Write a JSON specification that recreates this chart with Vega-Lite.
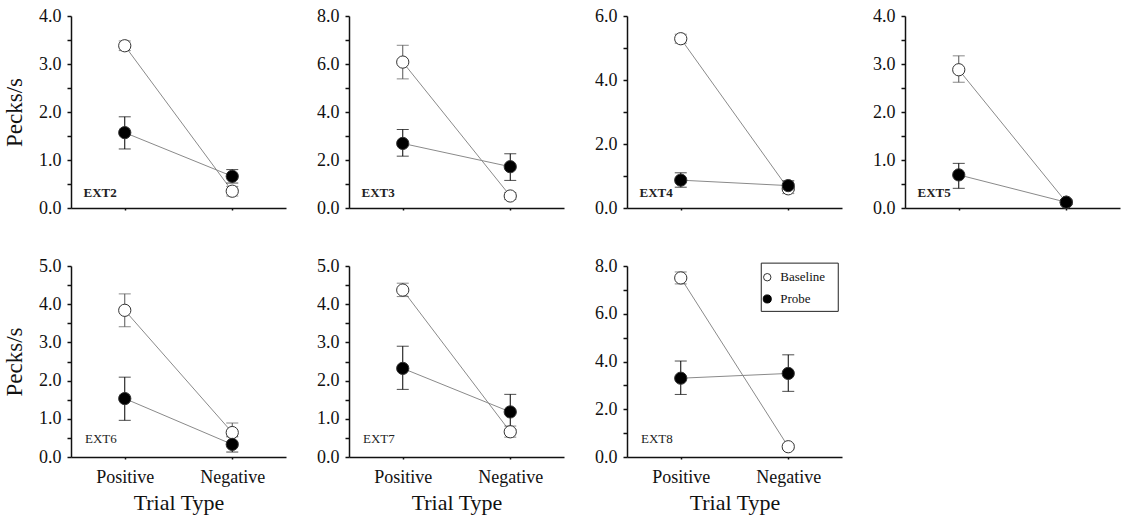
{
  "$schema": "https://vega.github.io/schema/vega-lite/v6.json",
  "padding": {"left": 3, "top": 7, "right": 3, "bottom": 3},
  "background": "white",
  "config": {
    "view": {"stroke": null},
    "font": "Liberation Serif",
    "axis": {
      "grid": false,
      "domainColor": "#111",
      "domainWidth": 1.5,
      "tickColor": "#111",
      "tickWidth": 1.5,
      "labelFont": "Liberation Serif",
      "labelFontSize": 18,
      "labelColor": "#111",
      "titleFont": "Liberation Serif",
      "titleFontSize": 23,
      "titleFontWeight": "normal",
      "titleColor": "#111"
    },
    "axisY": {"tickSize": 4, "labelPadding": 6},
    "axisX": {"tickSize": 2, "labelPadding": 9, "encode": {"ticks": {"update": {"y2": {"value": -8}}}}}
  },
  "data": {
    "values": [
      {"panel": "EXT2", "trial": "Positive", "cond": "Baseline", "mean": 3.38, "lo": 3.28, "hi": 3.48},
      {"panel": "EXT2", "trial": "Negative", "cond": "Baseline", "mean": 0.35, "lo": 0.25, "hi": 0.45},
      {"panel": "EXT2", "trial": "Positive", "cond": "Probe", "mean": 1.57, "lo": 1.23, "hi": 1.90},
      {"panel": "EXT2", "trial": "Negative", "cond": "Probe", "mean": 0.66, "lo": 0.52, "hi": 0.80},
      {"panel": "EXT3", "trial": "Positive", "cond": "Baseline", "mean": 6.08, "lo": 5.38, "hi": 6.78},
      {"panel": "EXT3", "trial": "Negative", "cond": "Baseline", "mean": 0.50, "lo": 0.35, "hi": 0.65},
      {"panel": "EXT3", "trial": "Positive", "cond": "Probe", "mean": 2.69, "lo": 2.16, "hi": 3.27},
      {"panel": "EXT3", "trial": "Negative", "cond": "Probe", "mean": 1.72, "lo": 1.15, "hi": 2.26},
      {"panel": "EXT4", "trial": "Positive", "cond": "Baseline", "mean": 5.29, "lo": 5.15, "hi": 5.43},
      {"panel": "EXT4", "trial": "Negative", "cond": "Baseline", "mean": 0.60, "lo": 0.45, "hi": 0.75},
      {"panel": "EXT4", "trial": "Positive", "cond": "Probe", "mean": 0.87, "lo": 0.65, "hi": 1.10},
      {"panel": "EXT4", "trial": "Negative", "cond": "Probe", "mean": 0.70, "lo": 0.55, "hi": 0.85},
      {"panel": "EXT5", "trial": "Positive", "cond": "Baseline", "mean": 2.88, "lo": 2.62, "hi": 3.17},
      {"panel": "EXT5", "trial": "Negative", "cond": "Baseline", "mean": 0.12, "lo": 0.07, "hi": 0.17},
      {"panel": "EXT5", "trial": "Positive", "cond": "Probe", "mean": 0.69, "lo": 0.41, "hi": 0.93},
      {"panel": "EXT5", "trial": "Negative", "cond": "Probe", "mean": 0.12, "lo": 0.07, "hi": 0.17},
      {"panel": "EXT6", "trial": "Positive", "cond": "Baseline", "mean": 3.84, "lo": 3.41, "hi": 4.27},
      {"panel": "EXT6", "trial": "Negative", "cond": "Baseline", "mean": 0.64, "lo": 0.39, "hi": 0.89},
      {"panel": "EXT6", "trial": "Positive", "cond": "Probe", "mean": 1.53, "lo": 0.96, "hi": 2.09},
      {"panel": "EXT6", "trial": "Negative", "cond": "Probe", "mean": 0.33, "lo": 0.13, "hi": 0.53},
      {"panel": "EXT7", "trial": "Positive", "cond": "Baseline", "mean": 4.37, "lo": 4.20, "hi": 4.55},
      {"panel": "EXT7", "trial": "Negative", "cond": "Baseline", "mean": 0.66, "lo": 0.52, "hi": 0.81},
      {"panel": "EXT7", "trial": "Positive", "cond": "Probe", "mean": 2.32, "lo": 1.77, "hi": 2.90},
      {"panel": "EXT7", "trial": "Negative", "cond": "Probe", "mean": 1.18, "lo": 0.72, "hi": 1.64},
      {"panel": "EXT8", "trial": "Positive", "cond": "Baseline", "mean": 7.50, "lo": 7.25, "hi": 7.75},
      {"panel": "EXT8", "trial": "Negative", "cond": "Baseline", "mean": 0.43, "lo": 0.33, "hi": 0.53},
      {"panel": "EXT8", "trial": "Positive", "cond": "Probe", "mean": 3.30, "lo": 2.62, "hi": 4.02},
      {"panel": "EXT8", "trial": "Negative", "cond": "Probe", "mean": 3.50, "lo": 2.75, "hi": 4.28}
    ]
  },
  "columns": 4,
  "spacing": {"row": 40, "column": 30},
  "resolve": {"scale": {"y": "independent", "fill": "independent", "color": "independent"}},
  "concat": [
    {
      "width": 215, "height": 192,
      "transform": [{"filter": "datum.panel === 'EXT2'"}],
      "encoding": {
        "x": {"field": "trial", "type": "ordinal", "sort": ["Positive", "Negative"], "scale": {"type": "point", "padding": 0.5}, "axis": {"labels": false, "title": null}},
        "y": {"field": "mean", "type": "quantitative", "scale": {"domain": [0, 4], "nice": false}, "axis": {"title": "Pecks/s", "titlePadding": 12, "values": [0, 0.5, 1, 1.5, 2, 2.5, 3, 3.5, 4], "labelExpr": "datum.value % 1 === 0 ? format(datum.value, '.1f') : ''", "encode": {"ticks": {"update": {"x2": {"signal": "datum.value % 1 === 0 ? 9 : 5"}}}}}}
      },
      "layer": [
        {"mark": {"type": "line", "color": "#8a8a8a", "strokeWidth": 1}, "encoding": {"detail": {"field": "cond"}}},
        {"mark": {"type": "errorbar", "ticks": {"size": 12}, "thickness": 1}, "encoding": {"y": {"field": "lo", "type": "quantitative"}, "y2": {"field": "hi"}, "color": {"field": "cond", "type": "nominal", "scale": {"domain": ["Baseline", "Probe"], "range": ["#555555", "#000000"]}, "legend": null}}},
        {"mark": {"type": "point", "shape": "circle", "size": 150, "strokeWidth": 1, "opacity": 1, "stroke": "#333"}, "encoding": {"fill": {"field": "cond", "type": "nominal", "scale": {"domain": ["Baseline", "Probe"], "range": ["#ffffff", "#000000"]}, "legend": null}}},
        {"transform": [{"filter": "datum.trial === 'Positive' && datum.cond === 'Baseline'"}], "mark": {"type": "text", "align": "right", "baseline": "alphabetic", "dx": -8, "dy": -11, "fontSize": 13, "fontWeight": "bold", "color": "#222"}, "encoding": {"y": {"datum": 0}, "text": {"field": "panel"}}}
      ]
    },
    {
      "width": 215, "height": 192,
      "transform": [{"filter": "datum.panel === 'EXT3'"}],
      "encoding": {
        "x": {"field": "trial", "type": "ordinal", "sort": ["Positive", "Negative"], "scale": {"type": "point", "padding": 0.5}, "axis": {"labels": false, "title": null}},
        "y": {"field": "mean", "type": "quantitative", "scale": {"domain": [0, 8], "nice": false}, "axis": {"title": null, "values": [0, 1, 2, 3, 4, 5, 6, 7, 8], "labelExpr": "datum.value % 2 === 0 ? format(datum.value, '.1f') : ''", "encode": {"ticks": {"update": {"x2": {"signal": "datum.value % 2 === 0 ? 9 : 5"}}}}}}
      },
      "layer": [
        {"mark": {"type": "line", "color": "#8a8a8a", "strokeWidth": 1}, "encoding": {"detail": {"field": "cond"}}},
        {"mark": {"type": "errorbar", "ticks": {"size": 12}, "thickness": 1}, "encoding": {"y": {"field": "lo", "type": "quantitative"}, "y2": {"field": "hi"}, "color": {"field": "cond", "type": "nominal", "scale": {"domain": ["Baseline", "Probe"], "range": ["#555555", "#000000"]}, "legend": null}}},
        {"mark": {"type": "point", "shape": "circle", "size": 150, "strokeWidth": 1, "opacity": 1, "stroke": "#333"}, "encoding": {"fill": {"field": "cond", "type": "nominal", "scale": {"domain": ["Baseline", "Probe"], "range": ["#ffffff", "#000000"]}, "legend": null}}},
        {"transform": [{"filter": "datum.trial === 'Positive' && datum.cond === 'Baseline'"}], "mark": {"type": "text", "align": "right", "baseline": "alphabetic", "dx": -8, "dy": -11, "fontSize": 13, "fontWeight": "bold", "color": "#222"}, "encoding": {"y": {"datum": 0}, "text": {"field": "panel"}}}
      ]
    },
    {
      "width": 215, "height": 192,
      "transform": [{"filter": "datum.panel === 'EXT4'"}],
      "encoding": {
        "x": {"field": "trial", "type": "ordinal", "sort": ["Positive", "Negative"], "scale": {"type": "point", "padding": 0.5}, "axis": {"labels": false, "title": null}},
        "y": {"field": "mean", "type": "quantitative", "scale": {"domain": [0, 6], "nice": false}, "axis": {"title": null, "values": [0, 1, 2, 3, 4, 5, 6], "labelExpr": "datum.value % 2 === 0 ? format(datum.value, '.1f') : ''", "encode": {"ticks": {"update": {"x2": {"signal": "datum.value % 2 === 0 ? 9 : 5"}}}}}}
      },
      "layer": [
        {"mark": {"type": "line", "color": "#8a8a8a", "strokeWidth": 1}, "encoding": {"detail": {"field": "cond"}}},
        {"mark": {"type": "errorbar", "ticks": {"size": 12}, "thickness": 1}, "encoding": {"y": {"field": "lo", "type": "quantitative"}, "y2": {"field": "hi"}, "color": {"field": "cond", "type": "nominal", "scale": {"domain": ["Baseline", "Probe"], "range": ["#555555", "#000000"]}, "legend": null}}},
        {"mark": {"type": "point", "shape": "circle", "size": 150, "strokeWidth": 1, "opacity": 1, "stroke": "#333"}, "encoding": {"fill": {"field": "cond", "type": "nominal", "scale": {"domain": ["Baseline", "Probe"], "range": ["#ffffff", "#000000"]}, "legend": null}}},
        {"transform": [{"filter": "datum.trial === 'Positive' && datum.cond === 'Baseline'"}], "mark": {"type": "text", "align": "right", "baseline": "alphabetic", "dx": -8, "dy": -11, "fontSize": 13, "fontWeight": "bold", "color": "#222"}, "encoding": {"y": {"datum": 0}, "text": {"field": "panel"}}}
      ]
    },
    {
      "width": 215, "height": 192,
      "transform": [{"filter": "datum.panel === 'EXT5'"}],
      "encoding": {
        "x": {"field": "trial", "type": "ordinal", "sort": ["Positive", "Negative"], "scale": {"type": "point", "padding": 0.5}, "axis": {"labels": false, "title": null}},
        "y": {"field": "mean", "type": "quantitative", "scale": {"domain": [0, 4], "nice": false}, "axis": {"title": null, "values": [0, 0.5, 1, 1.5, 2, 2.5, 3, 3.5, 4], "labelExpr": "datum.value % 1 === 0 ? format(datum.value, '.1f') : ''", "encode": {"ticks": {"update": {"x2": {"signal": "datum.value % 1 === 0 ? 9 : 5"}}}}}}
      },
      "layer": [
        {"mark": {"type": "line", "color": "#8a8a8a", "strokeWidth": 1}, "encoding": {"detail": {"field": "cond"}}},
        {"mark": {"type": "errorbar", "ticks": {"size": 12}, "thickness": 1}, "encoding": {"y": {"field": "lo", "type": "quantitative"}, "y2": {"field": "hi"}, "color": {"field": "cond", "type": "nominal", "scale": {"domain": ["Baseline", "Probe"], "range": ["#555555", "#000000"]}, "legend": null}}},
        {"mark": {"type": "point", "shape": "circle", "size": 150, "strokeWidth": 1, "opacity": 1, "stroke": "#333"}, "encoding": {"fill": {"field": "cond", "type": "nominal", "scale": {"domain": ["Baseline", "Probe"], "range": ["#ffffff", "#000000"]}, "legend": null}}},
        {"transform": [{"filter": "datum.trial === 'Positive' && datum.cond === 'Baseline'"}], "mark": {"type": "text", "align": "right", "baseline": "alphabetic", "dx": -8, "dy": -11, "fontSize": 13, "fontWeight": "bold", "color": "#222"}, "encoding": {"y": {"datum": 0}, "text": {"field": "panel"}}}
      ]
    },
    {
      "width": 215, "height": 191,
      "transform": [{"filter": "datum.panel === 'EXT6'"}],
      "encoding": {
        "x": {"field": "trial", "type": "ordinal", "sort": ["Positive", "Negative"], "scale": {"type": "point", "padding": 0.5}, "axis": {"title": "Trial Type", "titleFontSize": 22, "titlePadding": 6, "labelAngle": 0}},
        "y": {"field": "mean", "type": "quantitative", "scale": {"domain": [0, 5], "nice": false}, "axis": {"title": "Pecks/s", "titlePadding": 12, "values": [0, 0.5, 1, 1.5, 2, 2.5, 3, 3.5, 4, 4.5, 5], "labelExpr": "datum.value % 1 === 0 ? format(datum.value, '.1f') : ''", "encode": {"ticks": {"update": {"x2": {"signal": "datum.value % 1 === 0 ? 9 : 5"}}}}}}
      },
      "layer": [
        {"mark": {"type": "line", "color": "#8a8a8a", "strokeWidth": 1}, "encoding": {"detail": {"field": "cond"}}},
        {"mark": {"type": "errorbar", "ticks": {"size": 12}, "thickness": 1}, "encoding": {"y": {"field": "lo", "type": "quantitative"}, "y2": {"field": "hi"}, "color": {"field": "cond", "type": "nominal", "scale": {"domain": ["Baseline", "Probe"], "range": ["#555555", "#000000"]}, "legend": null}}},
        {"mark": {"type": "point", "shape": "circle", "size": 150, "strokeWidth": 1, "opacity": 1, "stroke": "#333"}, "encoding": {"fill": {"field": "cond", "type": "nominal", "scale": {"domain": ["Baseline", "Probe"], "range": ["#ffffff", "#000000"]}, "legend": null}}},
        {"transform": [{"filter": "datum.trial === 'Positive' && datum.cond === 'Baseline'"}], "mark": {"type": "text", "align": "right", "baseline": "alphabetic", "dx": -8, "dy": -14, "fontSize": 13, "color": "#222"}, "encoding": {"y": {"datum": 0}, "text": {"field": "panel"}}}
      ]
    },
    {
      "width": 215, "height": 191,
      "transform": [{"filter": "datum.panel === 'EXT7'"}],
      "encoding": {
        "x": {"field": "trial", "type": "ordinal", "sort": ["Positive", "Negative"], "scale": {"type": "point", "padding": 0.5}, "axis": {"title": "Trial Type", "titleFontSize": 22, "titlePadding": 6, "labelAngle": 0}},
        "y": {"field": "mean", "type": "quantitative", "scale": {"domain": [0, 5], "nice": false}, "axis": {"title": null, "values": [0, 0.5, 1, 1.5, 2, 2.5, 3, 3.5, 4, 4.5, 5], "labelExpr": "datum.value % 1 === 0 ? format(datum.value, '.1f') : ''", "encode": {"ticks": {"update": {"x2": {"signal": "datum.value % 1 === 0 ? 9 : 5"}}}}}}
      },
      "layer": [
        {"mark": {"type": "line", "color": "#8a8a8a", "strokeWidth": 1}, "encoding": {"detail": {"field": "cond"}}},
        {"mark": {"type": "errorbar", "ticks": {"size": 12}, "thickness": 1}, "encoding": {"y": {"field": "lo", "type": "quantitative"}, "y2": {"field": "hi"}, "color": {"field": "cond", "type": "nominal", "scale": {"domain": ["Baseline", "Probe"], "range": ["#555555", "#000000"]}, "legend": null}}},
        {"mark": {"type": "point", "shape": "circle", "size": 150, "strokeWidth": 1, "opacity": 1, "stroke": "#333"}, "encoding": {"fill": {"field": "cond", "type": "nominal", "scale": {"domain": ["Baseline", "Probe"], "range": ["#ffffff", "#000000"]}, "legend": null}}},
        {"transform": [{"filter": "datum.trial === 'Positive' && datum.cond === 'Baseline'"}], "mark": {"type": "text", "align": "right", "baseline": "alphabetic", "dx": -8, "dy": -14, "fontSize": 13, "color": "#222"}, "encoding": {"y": {"datum": 0}, "text": {"field": "panel"}}}
      ]
    },
    {
      "width": 215, "height": 191,
      "transform": [{"filter": "datum.panel === 'EXT8'"}],
      "encoding": {
        "x": {"field": "trial", "type": "ordinal", "sort": ["Positive", "Negative"], "scale": {"type": "point", "padding": 0.5}, "axis": {"title": "Trial Type", "titleFontSize": 22, "titlePadding": 6, "labelAngle": 0}},
        "y": {"field": "mean", "type": "quantitative", "scale": {"domain": [0, 8], "nice": false}, "axis": {"title": null, "values": [0, 1, 2, 3, 4, 5, 6, 7, 8], "labelExpr": "datum.value % 2 === 0 ? format(datum.value, '.1f') : ''", "encode": {"ticks": {"update": {"x2": {"signal": "datum.value % 2 === 0 ? 9 : 5"}}}}}}
      },
      "layer": [
        {"mark": {"type": "line", "color": "#8a8a8a", "strokeWidth": 1}, "encoding": {"detail": {"field": "cond"}}},
        {"mark": {"type": "errorbar", "ticks": {"size": 12}, "thickness": 1}, "encoding": {"y": {"field": "lo", "type": "quantitative"}, "y2": {"field": "hi"}, "color": {"field": "cond", "type": "nominal", "scale": {"domain": ["Baseline", "Probe"], "range": ["#555555", "#000000"]}, "legend": null}}},
        {"mark": {"type": "point", "shape": "circle", "size": 150, "strokeWidth": 1, "opacity": 1, "stroke": "#333"}, "encoding": {"fill": {"field": "cond", "type": "nominal", "scale": {"domain": ["Baseline", "Probe"], "range": ["#ffffff", "#000000"]}, "legend": null}}},
        {"transform": [{"filter": "datum.trial === 'Positive' && datum.cond === 'Baseline'"}], "mark": {"type": "text", "align": "right", "baseline": "alphabetic", "dx": -8, "dy": -14, "fontSize": 13, "color": "#222"}, "encoding": {"y": {"datum": 0}, "text": {"field": "panel"}}},
        {"transform": [{"filter": "datum.trial === 'Negative' && datum.cond === 'Baseline'"}], "mark": {"type": "rect", "fill": "white", "stroke": "#222", "strokeWidth": 1, "xOffset": -27, "x2Offset": 50}, "encoding": {"x2": {"field": "trial"}, "y": {"datum": 8.12}, "y2": {"datum": 6.1}}},
        {"transform": [{"filter": "datum.trial === 'Negative' && datum.cond === 'Baseline'"}], "mark": {"type": "point", "shape": "circle", "size": 55, "fill": "white", "stroke": "#333", "strokeWidth": 1, "opacity": 1, "xOffset": -21}, "encoding": {"y": {"datum": 7.53}}},
        {"transform": [{"filter": "datum.trial === 'Negative' && datum.cond === 'Probe'"}], "mark": {"type": "point", "shape": "circle", "size": 65, "fill": "black", "stroke": "black", "strokeWidth": 1, "opacity": 1, "xOffset": -21}, "encoding": {"y": {"datum": 6.62}}},
        {"transform": [{"filter": "datum.trial === 'Negative' && datum.cond === 'Baseline'"}], "mark": {"type": "text", "align": "left", "baseline": "middle", "xOffset": -8, "fontSize": 13, "color": "#111"}, "encoding": {"y": {"datum": 7.53}, "text": {"field": "cond"}}},
        {"transform": [{"filter": "datum.trial === 'Negative' && datum.cond === 'Probe'"}], "mark": {"type": "text", "align": "left", "baseline": "middle", "xOffset": -8, "fontSize": 13, "color": "#111"}, "encoding": {"y": {"datum": 6.62}, "text": {"field": "cond"}}}
      ]
    }
  ]
}
